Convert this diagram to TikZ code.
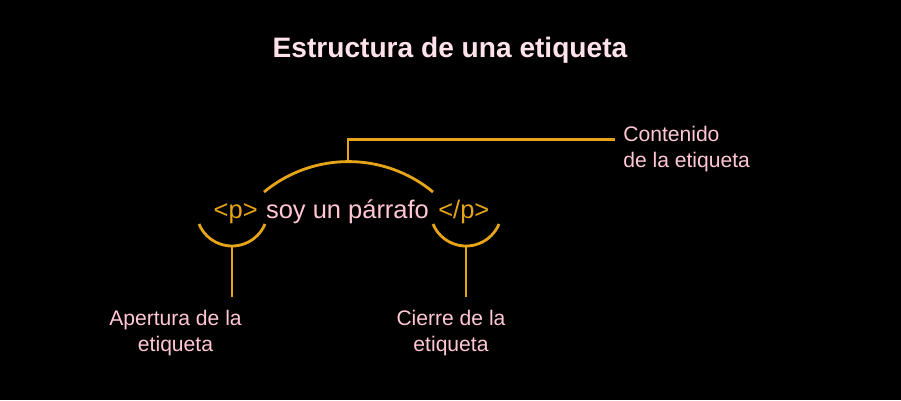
\documentclass[tikz,border=0pt]{standalone}
\usepackage{fontspec}
\setmainfont{Liberation Sans}
\definecolor{tagorange}{HTML}{E6A519}
\definecolor{labelpink}{HTML}{FFC6D4}
\definecolor{titlepink}{HTML}{FFE2EA}
\tikzset{
  bracket/.style={draw=tagorange, line width=1.6pt},
  label/.style={text=labelpink, inner sep=0pt, font=\fontsize{12}{15}\selectfont},
  tagtext/.style={text=tagorange, inner sep=0pt, font=\fontsize{14.5}{17}\selectfont},
}
\begin{document}
\begin{tikzpicture}[x=0.02cm, y=-0.02cm]
  \fill[black] (0,0) rectangle (901,400);
  \useasboundingbox (0,0) rectangle (901,400);
  % title
  \node[anchor=base, text=titlepink, inner sep=0pt, font=\bfseries\fontsize{16}{19}\selectfont] (title) at (450,57.5) {Estructura de una etiqueta};
  % the tag itself
  \node[tagtext, text=labelpink, anchor=base] (content) at (347.5,218) {soy un párrafo};
  \node[tagtext, anchor=base east] (opentag) at (258,218) {<p>};
  \node[tagtext, anchor=base west] (closetag) at (438,218) {</p>};
  % bracket points
  \coordinate (arcL) at (264,192);
  \coordinate (arcTop) at (348,161);
  \coordinate (arcCorner) at (348,139.5);
  \coordinate (contEnd) at (615,139.5);
  \coordinate (cupL) at (199,224);
  \coordinate (cupLbot) at (232,246);
  \coordinate (cupLend) at (232,297);
  \coordinate (cupR) at (433,224);
  \coordinate (cupRbot) at (466,246);
  \coordinate (cupRend) at (466,297);
  % brackets
  \draw[bracket] (arcL) arc[start angle=129.6, end angle=50.4, radius=2.652cm];
  \draw[bracket] (arcTop) -- (arcCorner) -- (contEnd);
  \draw[bracket] (cupL) arc[start angle=202.6, end angle=337.4, radius=0.715cm];
  \draw[bracket] (cupLbot) -- (cupLend);
  \draw[bracket] (cupR) arc[start angle=202.6, end angle=337.4, radius=0.715cm];
  \draw[bracket] (cupRbot) -- (cupRend);
  % labels (base = last line)
  \node[label, align=left, anchor=base west] (contlabel) at (623,167.5) {Contenido\\de la etiqueta};
  \node[label, align=center, anchor=base] (openlabel) at (175.5,351.5) {Apertura de la\\etiqueta};
  \node[label, align=center, anchor=base] (closelabel) at (451,351.5) {Cierre de la\\etiqueta};
\end{tikzpicture}
\end{document}
